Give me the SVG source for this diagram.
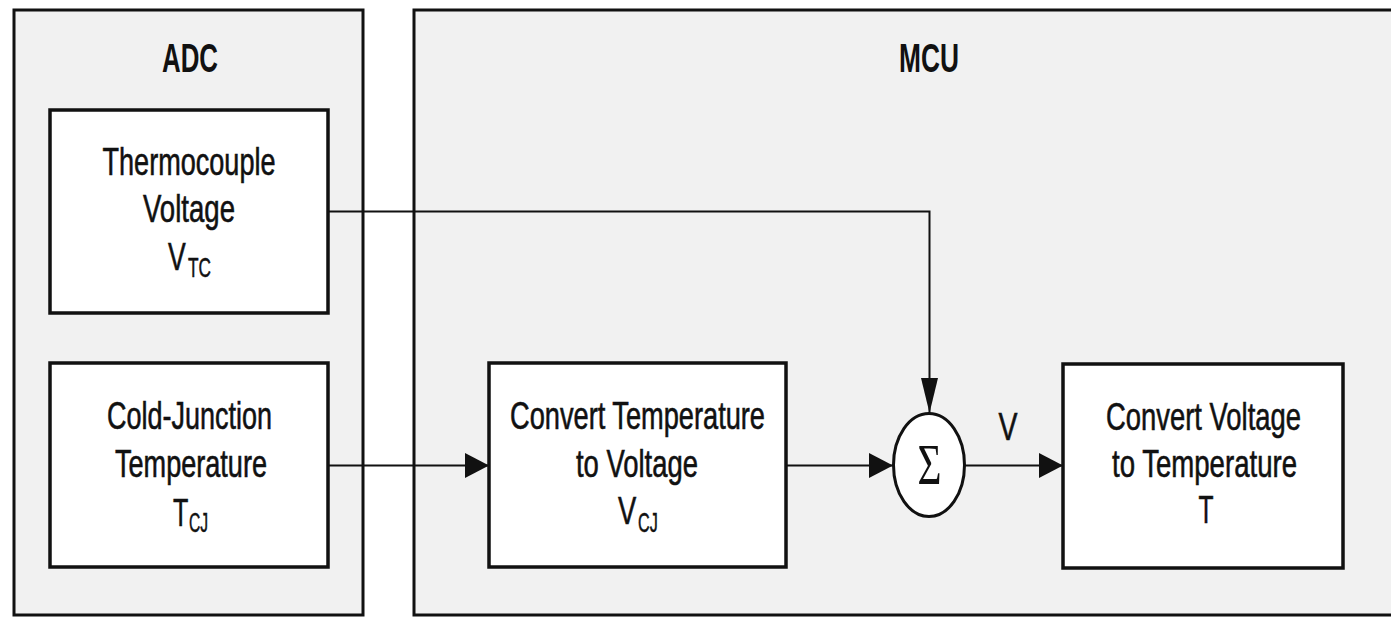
<svg xmlns="http://www.w3.org/2000/svg" width="1391" height="617" viewBox="0 0 1391 617">
<style>
.outer{fill:#f1f1f1;stroke:#111;stroke-width:3}
.box{fill:#fff;stroke:#111;stroke-width:3.5}
.t{font-family:"Liberation Sans",Arial,sans-serif;font-size:38px;fill:#111;stroke:#111;stroke-width:0.6;text-anchor:middle}
.s{font-family:"Liberation Sans",Arial,sans-serif;font-size:38px;fill:#111;stroke:#111;stroke-width:0.6;text-anchor:start}
.sub{font-family:"Liberation Sans",Arial,sans-serif;font-size:27px;fill:#111;stroke:#111;stroke-width:0.5;text-anchor:start}
.h{font-family:"Liberation Sans",Arial,sans-serif;font-size:40px;font-weight:bold;fill:#111;text-anchor:middle}
.c{fill:none;stroke:#111;stroke-width:2}
</style>
<defs>
<marker id="ah" markerUnits="userSpaceOnUse" markerWidth="25" markerHeight="26" refX="24" refY="12.5" orient="auto">
<path d="M0,0 L24,12.5 L0,25 z" fill="#111"/>
</marker>
<marker id="av" markerUnits="userSpaceOnUse" markerWidth="36" markerHeight="18" refX="35" refY="8.5" orient="auto">
<path d="M0,0 L35,8.5 L0,17 z" fill="#111"/>
</marker>
</defs>
<rect width="1391" height="617" fill="#fff"/>
<g id="adc">
<rect class="outer" x="14" y="10" width="349" height="605"/>
<text class="h" x="190" y="72" textLength="56" lengthAdjust="spacingAndGlyphs">ADC</text>
</g>
<g id="mcu">
<rect class="outer" x="414" y="10" width="1000" height="605"/>
<text class="h" x="929" y="72" textLength="60" lengthAdjust="spacingAndGlyphs">MCU</text>
</g>
<g id="connectors">
<path class="c" d="M328,211.5 H929.5 V413" marker-end="url(#av)"/>
<path class="c" d="M328,465.5 H489" marker-end="url(#ah)"/>
<path class="c" d="M786,465.5 H893" marker-end="url(#ah)"/>
<path class="c" d="M965,465.5 H1063" marker-end="url(#ah)"/>
<text class="t" x="1008" y="440" textLength="19" lengthAdjust="spacingAndGlyphs">V</text>
</g>
<g id="thermocouple">
<rect class="box" x="50" y="110" width="278" height="203"/>
<text class="t" x="189" y="175" textLength="173" lengthAdjust="spacingAndGlyphs">Thermocouple</text>
<text class="t" x="189" y="222" textLength="92" lengthAdjust="spacingAndGlyphs">Voltage</text>
<text class="s" transform="translate(168,270) scale(0.7,1)">V</text>
<text class="sub" transform="translate(188,277) scale(0.64,1)">TC</text>
</g>
<g id="coldjunction">
<rect class="box" x="50" y="363" width="278" height="204"/>
<text class="t" x="189.5" y="429" textLength="165" lengthAdjust="spacingAndGlyphs">Cold-Junction</text>
<text class="t" x="191" y="477" textLength="152" lengthAdjust="spacingAndGlyphs">Temperature</text>
<text class="s" transform="translate(173,526) scale(0.66,1)">T</text>
<text class="sub" transform="translate(189,532) scale(0.58,1)">CJ</text>
</g>
<g id="convtemp">
<rect class="box" x="489" y="363" width="297" height="204"/>
<text class="t" x="637.5" y="429" textLength="255" lengthAdjust="spacingAndGlyphs">Convert Temperature</text>
<text class="t" x="637" y="477" textLength="122" lengthAdjust="spacingAndGlyphs">to Voltage</text>
<text class="s" transform="translate(618,524) scale(0.72,1)">V</text>
<text class="sub" transform="translate(638,532) scale(0.6,1)">CJ</text>
</g>
<g id="sum">
<ellipse cx="929" cy="465" rx="35.5" ry="51.5" fill="#fff" stroke="#111" stroke-width="3"/>
<text x="929.5" y="484" font-family="'Liberation Serif','Times New Roman',serif" font-size="58" fill="#111" text-anchor="middle" textLength="24" lengthAdjust="spacingAndGlyphs">Σ</text>
</g>
<g id="convvolt">
<rect class="box" x="1063" y="364" width="280" height="204"/>
<text class="t" x="1203.5" y="430" textLength="195" lengthAdjust="spacingAndGlyphs">Convert Voltage</text>
<text class="t" x="1204.5" y="477" textLength="185" lengthAdjust="spacingAndGlyphs">to Temperature</text>
<text class="t" x="1206" y="523" textLength="15" lengthAdjust="spacingAndGlyphs">T</text>
</g>
</svg>
